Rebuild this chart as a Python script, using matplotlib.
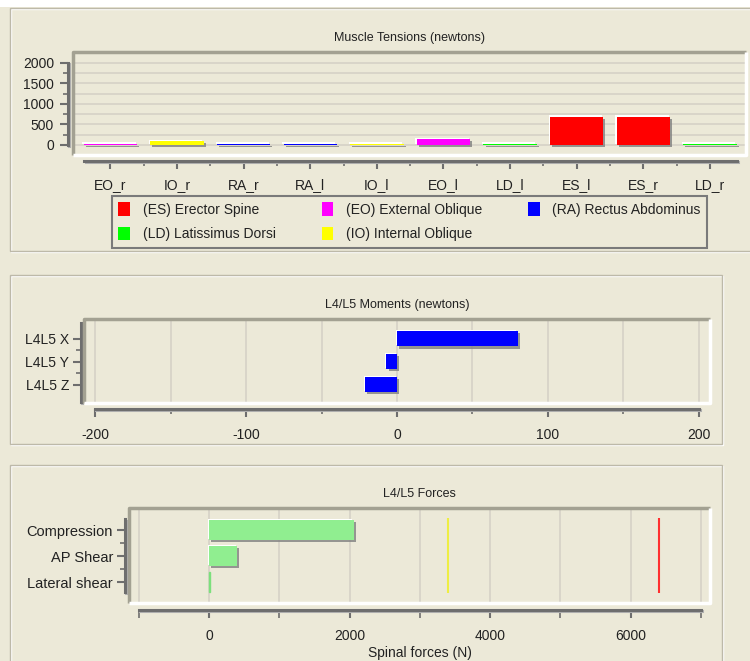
import matplotlib
matplotlib.use('Agg')
import matplotlib.pyplot as plt
from matplotlib.patches import Rectangle, Patch
import matplotlib.patheffects as pe
import numpy as np

plt.rcParams['font.family'] = ['Liberation Sans', 'DejaVu Sans']
plt.rcParams['axes.unicode_minus'] = False

# ---------------- data ----------------
muscles = ['EO_r', 'IO_r', 'RA_r', 'RA_l', 'IO_l', 'EO_l', 'LD_l', 'ES_l', 'ES_r', 'LD_r']
tensions = [35, 100, 35, 35, 30, 140, 35, 690, 690, 35]

group_keys = ['ES', 'LD', 'EO', 'IO', 'RA']
group_labels = ['(ES) Erector Spine', '(LD) Latissimus Dorsi', '(EO) External Oblique',
                '(IO) Internal Oblique', '(RA) Rectus Abdominus']
group_colors = ['#FF0000', '#00FF00', '#FF00FF', '#FFFF00', '#0000FF']

moment_labels = ['L4L5 X', 'L4L5 Y', 'L4L5 Z']
moments = [80, -7, -21]

force_labels = ['Compression', 'AP Shear', 'Lateral shear']
forces = [2060, 400, 20]
force_limits = [3400, 6400]
limit_colors = ['#EEEE44', '#FF3030']

# ---------------- style ----------------
BG = '#ECE9D8'
GRID = '#D6D2C6'
AXC = '#6E6E6E'
TXT = '#222222'
W, H = 750, 661

fig = plt.figure(figsize=(W / 100, H / 100), dpi=100, facecolor=BG)


def fr(x0, y0, x1, y1):
    return [x0 / W, 1 - y1 / H, (x1 - x0) / W, (y1 - y0) / H]


def px(p):
    return p * 0.72


# white strip at very top
fig.add_artist(Rectangle((0, 1 - 7 / H), 1, 7 / H, transform=fig.transFigure,
                         facecolor='white', edgecolor='none', zorder=0))


def panel(x0, y0, x1, y1):
    fig.add_artist(Rectangle(((x0 + 1) / W, 1 - (y1 + 1) / H), (x1 - x0) / W, (y1 - y0) / H,
                             transform=fig.transFigure, fill=False, ec='white', lw=1, zorder=0.5))
    fig.add_artist(Rectangle((x0 / W, 1 - y1 / H), (x1 - x0) / W, (y1 - y0) / H,
                             transform=fig.transFigure, fill=False, ec='#BDB9A9', lw=1, zorder=0.6))


panel(10, 8, 760, 251)
panel(10, 275, 722, 444)
panel(10, 465, 722, 675)

shadow = [pe.SimplePatchShadow(offset=(1.5, -1.5), shadow_rgbFace='#808080', alpha=0.8),
          pe.SimplePatchShadow(offset=(-1, 1), shadow_rgbFace='white', alpha=1.0),
          pe.Normal()]
thin_fx = [pe.Normal()]
spine_fx = [pe.SimpleLineShadow(offset=(1, -1), shadow_color='#B0B0B0', alpha=1), pe.Normal()]


def style_axes(ax, left_out, bottom_out, left_bounds, bottom_bounds):
    ax.set_facecolor(BG)
    for s in ['top', 'right']:
        ax.spines[s].set_visible(False)
    for s, out, b in [('left', left_out, left_bounds), ('bottom', bottom_out, bottom_bounds)]:
        sp = ax.spines[s]
        sp.set_position(('outward', px(out)))
        sp.set_bounds(*b)
        sp.set_color(AXC)
        sp.set_linewidth(2.2)
        sp.set_path_effects(spine_fx)
    ax.tick_params(which='major', length=px(8), width=1.5, color=AXC, labelcolor=TXT,
                   labelsize=10)
    ax.tick_params(which='minor', length=px(5), width=1.2, color=AXC)
    # plot-area frame (sunken look)
    ax.plot([0, 0, 1], [0, 1, 1], transform=ax.transAxes, color='#A3A192', lw=2.5,
            clip_on=False, zorder=5, solid_capstyle='butt')
    ax.plot([0, 1, 1], [0, 0, 1], transform=ax.transAxes, color='white', lw=2.5,
            clip_on=False, zorder=5, solid_capstyle='butt')


# ---------------- panel 1: muscle tensions ----------------
ax1 = fig.add_axes(fr(73, 52, 746, 155))
cmap = dict(zip(group_keys, group_colors))
x1 = np.arange(len(muscles))
for g in np.arange(0, 2251, 250):
    ax1.axhline(g, color=GRID, lw=1.2, zorder=0)
ax1.bar(x1, tensions, width=0.8, color=[cmap[m.split('_')[0]] for m in muscles],
        path_effects=shadow, zorder=2)
ax1.set_xlim(-0.56, 9.54)
ax1.set_ylim(-244, 2268)
style_axes(ax1, 5, 6, (0, 2000), (-0.39, 9.4))
ax1.set_yticks(np.arange(0, 2001, 500))
ax1.set_yticks(np.arange(250, 2000, 500), minor=True)
ax1.set_xticks(x1)
ax1.set_xticklabels(muscles)
ax1.set_xticks(x1[:-1] + 0.5, minor=True)
ax1.tick_params(axis='y', which='major', pad=px(6))
ax1.tick_params(axis='x', which='major', pad=px(9))
ax1.set_title('Muscle Tensions (newtons)', fontsize=9, color=TXT, pad=px(11))

handles = [Patch(facecolor=c, edgecolor='none') for c in group_colors]
leg = fig.legend(handles, group_labels, loc='upper left',
                 bbox_to_anchor=(112 / W, 1 - 247 / H, (707 - 112) / W, 51 / H),
                 mode='expand', ncol=3, frameon=True, fancybox=False, edgecolor='#7A7A7A',
                 facecolor=BG, fontsize=10, handlelength=0.85, handleheight=1.1,
                 handletextpad=0.9, borderaxespad=0, labelspacing=0.75, borderpad=0.45,
                 labelcolor=TXT)
leg.get_frame().set_linewidth(1.5)
leg.get_frame().set_alpha(1)

# ---------------- panel 2: moments ----------------
ax2 = fig.add_axes(fr(84, 319, 710, 403))
y2 = np.arange(len(moment_labels))
for g in np.arange(-200, 201, 50):
    ax2.axvline(g, color=GRID, lw=1.2, zorder=0)
ax2.barh(y2, moments, height=0.66, color='#0000FF', path_effects=shadow, zorder=2)
ax2.set_xlim(-207.3, 207.3)
ax2.set_ylim(2.8, -0.87)
style_axes(ax2, 3, 6, (-0.7, 2.74), (-200, 200))
ax2.set_yticks(y2)
ax2.set_yticklabels(moment_labels)
ax2.set_yticks(y2[:-1] + 0.5, minor=True)
ax2.set_xticks(np.arange(-200, 201, 100))
ax2.set_xticks(np.arange(-150, 151, 100), minor=True)
ax2.tick_params(axis='x', which='major', pad=px(11))
ax2.tick_params(axis='y', which='major', pad=px(4))
ax2.set_title('L4/L5 Moments (newtons)', fontsize=9, color=TXT, pad=px(11))

# ---------------- panel 3: forces ----------------
ax3 = fig.add_axes(fr(129, 508, 710, 603))
y3 = np.arange(len(force_labels))
for g in np.arange(-1000, 7001, 1000):
    ax3.axvline(g, color=GRID, lw=1.2, zorder=0)
bars3 = ax3.barh(y3, forces, height=0.77, color='#90EE90', zorder=2)
for b, v in zip(bars3, forces):
    if v > 100:
        b.set_path_effects(shadow)
    else:
        b.set_edgecolor('#7CE07C')
        b.set_linewidth(1.0)
ax3.vlines(force_limits, -0.45, 2.4, colors=limit_colors, lw=1.5, zorder=3)
ax3.set_xlim(-1139, 7130)
ax3.set_ylim(2.8, -0.85)
style_axes(ax3, 4, 7, (-0.42, 2.38), (-1000, 7000))
ax3.set_yticks(y3)
ax3.set_yticklabels(force_labels, fontsize=10.5)
ax3.set_yticks(y3[:-1] + 0.5, minor=True)
ax3.set_xticks(np.arange(0, 7001, 2000))
ax3.set_xticks(np.arange(-1000, 7001, 2000), minor=True)
ax3.tick_params(axis='x', which='minor', length=px(8))
ax3.tick_params(axis='x', which='major', pad=px(11))
ax3.tick_params(axis='y', which='major', pad=px(4))
ax3.set_title('L4/L5 Forces', fontsize=9, color=TXT, pad=px(11))
ax3.set_xlabel('Spinal forces (N)', fontsize=10, color=TXT, labelpad=px(3))

fig.savefig('out.png', dpi=100, facecolor=BG)
